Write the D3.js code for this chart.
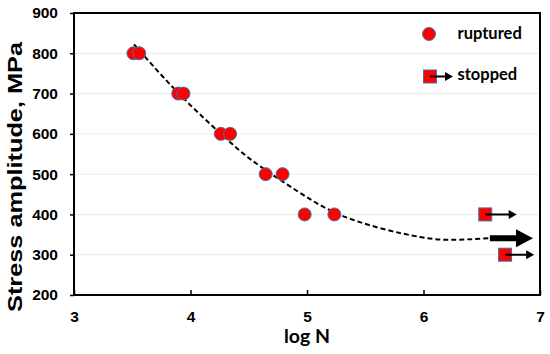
<!DOCTYPE html>
<html>
<head>
<meta charset="utf-8">
<script src="https://cdn.jsdelivr.net/npm/d3@7"></script>
<style>
  body { margin: 0; background: #fff; }
  .tick-label { font-family: "Liberation Sans", Arial, sans-serif; font-weight: bold; font-size: 15.5px; }
</style>
</head>
<body>
<div id="root"></div>
<script>
// values
const rupturedLogN = [3.51, 3.56, 3.895, 3.94, 4.26, 4.34, 4.645, 4.79, 4.98, 5.235];
const rupturedStress = [800, 800, 700, 700, 600, 600, 500, 500, 400, 400];
const stoppedLogN = [6.53, 6.70];
const stoppedStress = [400, 300];
const stoppedArrowTo = [6.80, 6.95];
const trendLogN = [3.515, 3.91, 4.28, 4.51, 4.768, 5.026, 5.283, 5.627, 5.97, 6.227, 6.57];
const trendStress = [822, 697, 595, 538, 486, 438, 399, 366, 344, 337, 341];
const trendArrowTo = 6.94;
const xTicks = [3, 4, 5, 6, 7];
const yTicks = [200, 300, 400, 500, 600, 700, 800, 900];

const W = 550, H = 354;
const margin = { top: 13, right: 10, bottom: 59, left: 74 };
const width = W - margin.left - margin.right;
const height = H - margin.top - margin.bottom;

const svg = d3.select("#root").append("svg").attr("width", W).attr("height", H);

const x = d3.scaleLinear().domain([3, 7]).range([0, width]);
const y = d3.scaleLinear().domain([200, 900]).range([height, 0]);

const g = svg.append("g").attr("transform", "translate(" + margin.left + "," + margin.top + ")");

// horizontal arrow as a filled polygon, tip at x1
const arrowPath = (x0, x1, yc, shaft, headLen, headHalf) => {
  const hb = x1 - headLen;
  return "M" + x0 + "," + (yc - shaft) +
    "L" + hb + "," + (yc - shaft) +
    "L" + hb + "," + (yc - headHalf) +
    "L" + x1 + "," + yc +
    "L" + hb + "," + (yc + headHalf) +
    "L" + hb + "," + (yc + shaft) +
    "L" + x0 + "," + (yc + shaft) + "Z";
};

// light gridlines
g.append("g")
  .selectAll("line")
  .data(yTicks.slice(1))
  .enter()
  .append("line")
  .attr("x1", 0)
  .attr("x2", width)
  .attr("y1", d => y(d))
  .attr("y2", d => y(d))
  .attr("stroke", "#ececec")
  .attr("stroke-width", 1);

// frame
g.append("rect")
  .attr("x", 0).attr("y", 0)
  .attr("width", width).attr("height", height)
  .attr("fill", "none")
  .attr("stroke", "#000")
  .attr("stroke-width", 2);

// axes
const xAxis = g.append("g")
  .attr("transform", "translate(0," + height + ")")
  .call(d3.axisBottom(x).tickValues(xTicks).tickSizeInner(-5).tickSizeOuter(0).tickPadding(16).tickFormat(d3.format("d")));
xAxis.select(".domain").remove();
xAxis.selectAll("line").attr("stroke", "#000").attr("stroke-width", 1.5);
xAxis.selectAll("text").attr("class", "tick-label").attr("fill", "#000");

const yAxis = g.append("g")
  .call(d3.axisLeft(y).tickValues(yTicks).tickSizeInner(4).tickSizeOuter(0).tickPadding(12).tickFormat(d3.format("d")));
yAxis.select(".domain").remove();
yAxis.selectAll("line").attr("stroke", "#000").attr("stroke-width", 1.5);
yAxis.selectAll("text").attr("class", "tick-label").attr("fill", "#000");

// axis titles
svg.append("text")
  .attr("transform", "translate(22,177) rotate(-90)")
  .attr("text-anchor", "middle")
  .attr("textLength", 270)
  .attr("lengthAdjust", "spacingAndGlyphs")
  .style("font-family", "'Liberation Sans', Arial, sans-serif")
  .style("font-weight", "bold")
  .style("font-size", "20.5px")
  .text("Stress amplitude, MPa");

svg.append("text")
  .attr("x", margin.left + x(5))
  .attr("y", 343)
  .attr("text-anchor", "middle")
  .style("font-family", "Lato, 'Open Sans', sans-serif")
  .style("font-weight", "bold")
  .style("font-size", "19.5px")
  .text("log N");

// trend line (dashed)
const trend = trendLogN.map((v, i) => [v, trendStress[i]]);
const line = d3.line().x(d => x(d[0])).y(d => y(d[1])).curve(d3.curveNatural);
g.append("path")
  .datum(trend)
  .attr("d", line)
  .attr("fill", "none")
  .attr("stroke", "#000")
  .attr("stroke-width", 2)
  .attr("stroke-dasharray", "5,3");

// big run-out arrow at the end of the trend
const last = trend[trend.length - 1];
g.append("path")
  .attr("d", arrowPath(x(last[0]), x(trendArrowTo), y(last[1]), 3, 17, 9))
  .attr("fill", "#000");

// ruptured points
g.append("g")
  .selectAll("circle")
  .data(rupturedLogN.map((v, i) => ({ n: v, s: rupturedStress[i] })))
  .enter()
  .append("circle")
  .attr("cx", d => x(d.n))
  .attr("cy", d => y(d.s))
  .attr("r", 6.5)
  .attr("fill", "#ff0000")
  .attr("stroke", "#3b78a8")
  .attr("stroke-width", 1);

// stopped (run-out) points
const stopped = stoppedLogN.map((v, i) => ({ n: v, s: stoppedStress[i], to: stoppedArrowTo[i] }));
g.append("g")
  .selectAll("rect")
  .data(stopped)
  .enter()
  .append("rect")
  .attr("x", d => x(d.n) - 6.5)
  .attr("y", d => y(d.s) - 6.5)
  .attr("width", 13)
  .attr("height", 13)
  .attr("fill", "#ff0000")
  .attr("stroke", "#3b78a8")
  .attr("stroke-width", 1);
g.append("g")
  .selectAll("path")
  .data(stopped)
  .enter()
  .append("path")
  .attr("d", d => arrowPath(x(d.n), x(d.to), y(d.s), 1, 8, 4.5))
  .attr("fill", "#000");

// legend
const legend = svg.append("g");
legend.append("circle")
  .attr("cx", 429).attr("cy", 34).attr("r", 6.5)
  .attr("fill", "#ff0000").attr("stroke", "#3b78a8").attr("stroke-width", 1);
legend.append("rect")
  .attr("x", 423.5).attr("y", 70).attr("width", 13).attr("height", 13)
  .attr("fill", "#ff0000").attr("stroke", "#3b78a8").attr("stroke-width", 1);
legend.append("path")
  .attr("d", arrowPath(430, 453, 76.5, 1, 8, 4.5))
  .attr("fill", "#000");
legend.selectAll("text.leg")
  .data(["ruptured", "stopped"])
  .enter()
  .append("text")
  .attr("class", "leg")
  .attr("x", 457.5)
  .attr("y", (d, i) => 38.5 + i * 41.5)
  .style("font-family", "Lato, 'Open Sans', sans-serif")
  .style("font-weight", "bold")
  .style("font-size", "16.5px")
  .text(d => d);
</script>
</body>
</html>
